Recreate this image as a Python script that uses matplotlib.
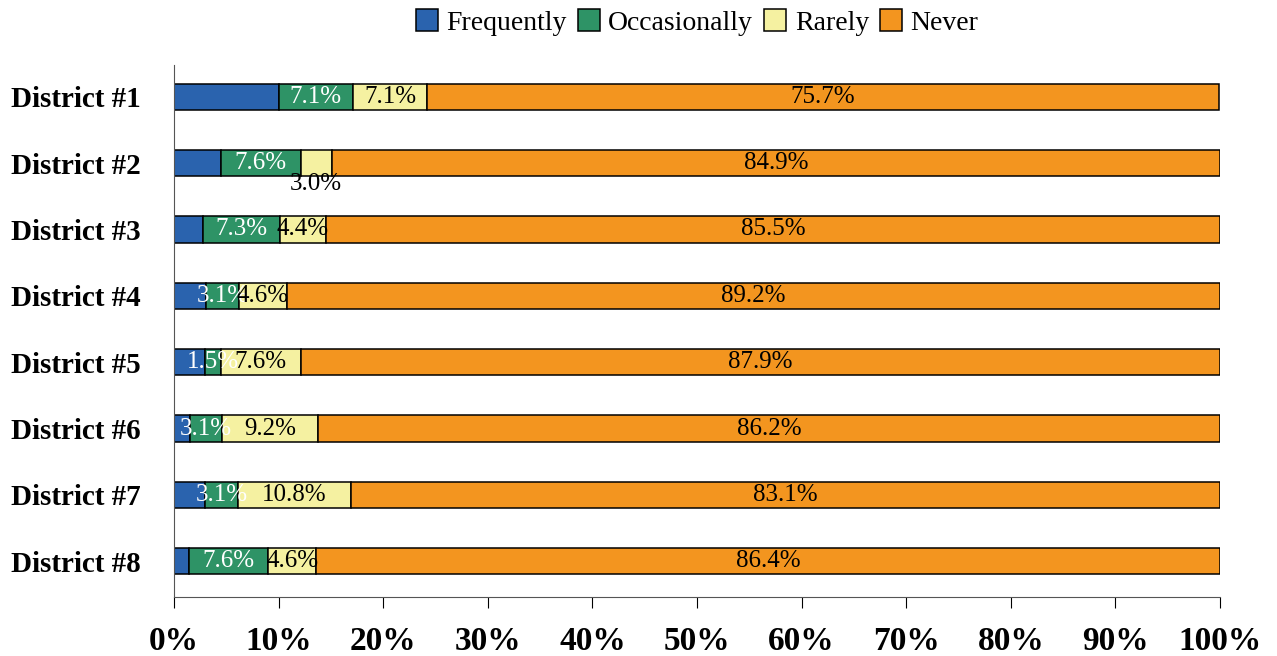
import matplotlib.pyplot as plt
import numpy as np

districts = ['District #1', 'District #2', 'District #3', 'District #4',
             'District #5', 'District #6', 'District #7', 'District #8']
frequently = [10.0, 4.5, 2.8, 3.1, 3.0, 1.5, 3.0, 1.4]
occasionally = [7.1, 7.6, 7.3, 3.1, 1.5, 3.1, 3.1, 7.6]
rarely = [7.1, 3.0, 4.4, 4.6, 7.6, 9.2, 10.8, 4.6]
never = [75.7, 84.9, 85.5, 89.2, 87.9, 86.2, 83.1, 86.4]

series = [('Frequently', frequently, '#2A63AE', None),
          ('Occasionally', occasionally, '#2E9366', 'white'),
          ('Rarely', rarely, '#F5F1A1', 'black'),
          ('Never', never, '#F3951F', 'black')]

plt.rcParams['font.family'] = ['Liberation Serif', 'DejaVu Serif']

fig = plt.figure(figsize=(12.77, 6.56), dpi=100)
ax = fig.add_axes([0.1363, 0.0899, 0.8191, 0.8111])

y = np.arange(len(districts))
left = np.zeros(len(districts))
for name, vals, color, tcolor in series:
    vals = np.array(vals)
    ax.barh(y, vals, left=left, height=0.4, color=color, edgecolor='black',
            linewidth=1.1, label=name)
    if tcolor is not None:
        for i, v in enumerate(vals):
            xc = left[i] + v / 2
            yc = y[i]
            # small segment label sits under the bar
            if name == 'Rarely' and i == 1:
                yc = y[i] + 0.32
            ax.text(xc, yc, f'{v:.1f}%', ha='center', va='center',
                    color=tcolor, fontsize=18)
    left = left + vals

ax.set_xlim(0, 100)
ax.set_ylim(7.54, -0.48)
ax.set_yticks(y)
ax.set_yticklabels(districts, fontsize=21, fontweight='bold')
ax.set_xticks(np.arange(0, 101, 10))
ax.set_xticklabels([f'{t}%' for t in range(0, 101, 10)], fontsize=24, fontweight='bold')
ax.tick_params(axis='y', length=0, pad=24)
ax.tick_params(axis='x', length=8, pad=13, direction='out')
for s in ['top', 'right']:
    ax.spines[s].set_visible(False)
ax.spines['left'].set_color('#555555')
ax.spines['bottom'].set_color('#555555')

ax.legend(loc='lower center', bbox_to_anchor=(0.5, 1.034), ncol=4, frameon=False,
          fontsize=20, handlelength=0.8, handleheight=0.8, handletextpad=0.3,
          columnspacing=0.4, borderaxespad=0)

fig.savefig('out.png', dpi=100)
